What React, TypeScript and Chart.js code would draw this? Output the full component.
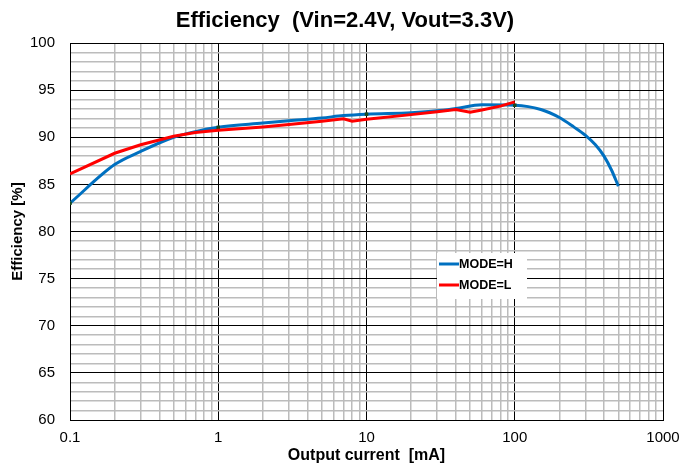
import { useEffect, useRef } from "react";
import { Chart, registerables } from "chart.js";

Chart.register(...registerables);

// ---- Data ----
const chartTitle = "Efficiency  (Vin=2.4V, Vout=3.3V)";
const xAxisTitle = "Output current  [mA]";
const yAxisTitle = "Efficiency [%]";
const seriesNames = ["MODE=H", "MODE=L"];

const currentH = [0.1, 0.2, 0.3, 0.5, 0.7, 1, 2, 3, 5, 7, 10, 20, 30, 40, 60, 100, 150, 200, 250, 300, 350, 400, 450, 500];
const effH = [83.0, 87.1, 88.5, 90.0, 90.6, 91.05, 91.5, 91.75, 92.05, 92.3, 92.45, 92.6, 92.8, 93.05, 93.45, 93.4, 92.95, 92.1, 91.1, 90.2, 89.2, 88.0, 86.5, 84.8];

const currentL = [0.1, 0.2, 0.3, 0.5, 0.7, 1, 2, 3, 5, 7, 8, 10, 20, 30, 40, 50, 60, 80, 100];
const effL = [86.1, 88.3, 89.2, 90.1, 90.5, 90.75, 91.1, 91.35, 91.7, 91.95, 91.7, 91.9, 92.4, 92.7, 92.95, 92.65, 92.9, 93.3, 93.75];

const markerCurrents = [0.1, 1, 10, 100];

const xDecades = [0.1, 1, 10, 100, 1000];
const xMantissas = [1, 2, 3, 4, 5, 6, 7, 8, 9];
const yMin = 60;
const yMax = 100;
const yLabelStep = 5;

const FONT = '"Liberation Sans", Arial, Helvetica, sans-serif';

export default function App() {
  const ref = useRef<HTMLCanvasElement | null>(null);

  useEffect(() => {
    if (!ref.current) return;

    const xGridValues: number[] = [];
    xDecades.forEach((d, i) => {
      if (i === xDecades.length - 1) {
        xGridValues.push(d);
      } else {
        xMantissas.forEach((m) => xGridValues.push(+(d * m).toPrecision(6)));
      }
    });
    const isDecade = (v: number) => xDecades.some((d) => Math.abs(d - v) < d * 1e-6);

    const titlePlugin = {
      id: "centeredTitle",
      afterDraw(chart: any) {
        const { ctx } = chart;
        ctx.save();
        ctx.fillStyle = "#000000";
        ctx.font = `bold 22px ${FONT}`;
        ctx.textAlign = "center";
        ctx.textBaseline = "alphabetic";
        ctx.fillText(chartTitle, 345, 26.5);
        ctx.restore();
      },
    };

    const legendPlugin = {
      id: "inlineLegend",
      afterDraw(chart: any) {
        const { ctx, chartArea } = chart;
        const bx = chartArea.left + 367;
        const by = chartArea.top + 210;
        ctx.save();
        ctx.fillStyle = "#ffffff";
        ctx.fillRect(bx, by, 90, 46);
        chart.data.datasets.forEach((ds: any, i: number) => {
          const y = by + 11 + i * 21;
          ctx.strokeStyle = ds.borderColor;
          ctx.lineWidth = 3;
          ctx.beginPath();
          ctx.moveTo(bx + 2, y);
          ctx.lineTo(bx + 22, y);
          ctx.stroke();
          ctx.fillStyle = "#000000";
          ctx.font = `bold 12.5px ${FONT}`;
          ctx.textBaseline = "middle";
          ctx.textAlign = "left";
          ctx.fillText(ds.label, bx + 22, y + 0.5);
        });
        ctx.restore();
      },
    };

    const chart = new Chart(ref.current, {
      type: "line",
      data: {
        datasets: [
          {
            label: seriesNames[0],
            data: currentH.map((x, i) => ({ x, y: effH[i] })),
            borderColor: "#0070C0",
            backgroundColor: "#0070C0",
            borderWidth: 3,
            cubicInterpolationMode: "monotone",
            pointStyle: "rect",
            pointRadius: currentH.map((x) => (markerCurrents.includes(x) ? 2.5 : 0)),
            pointBackgroundColor: "#1d4a1d",
            pointBorderColor: "#1d4a1d",
            pointBorderWidth: 0,
            order: 2,
          },
          {
            label: seriesNames[1],
            data: currentL.map((x, i) => ({ x, y: effL[i] })),
            borderColor: "#FF0000",
            backgroundColor: "#FF0000",
            borderWidth: 3,
            tension: 0,
            pointRadius: 0,
            order: 1,
          },
        ],
      },
      options: {
        animation: false,
        responsive: false,
        maintainAspectRatio: false,
        layout: { padding: { left: 0, right: 33, top: 43, bottom: 0 } },
        plugins: {
          legend: { display: false },
          tooltip: { enabled: false },
          title: { display: false },
        },
        scales: {
          x: {
            type: "logarithmic",
            min: 0.1,
            max: 1000,
            afterBuildTicks: (scale: any) => {
              scale.ticks = xGridValues.map((v) => ({ value: v }));
            },
            afterFit: (scale: any) => {
              scale.height = 50;
            },
            ticks: {
              autoSkip: false,
              maxRotation: 0,
              padding: 9,
              color: "#000000",
              font: { family: FONT, size: 15 },
              callback: (v: any) => (isDecade(Number(v)) ? String(+Number(v).toPrecision(6)) : ""),
            },
            grid: {
              drawTicks: false,
              color: (c: any) => (isDecade(c.tick.value) ? "#000000" : "#bcbcbc"),
              lineWidth: (c: any) => (isDecade(c.tick.value) ? 1 : 1.5),
            },
            border: { color: "#000000", width: 1 },
            title: {
              display: true,
              text: xAxisTitle,
              color: "#000000",
              font: { family: FONT, size: 16, weight: "bold" },
              padding: { top: 0, bottom: 5 },
            },
          },
          y: {
            min: yMin,
            max: yMax,
            afterFit: (scale: any) => {
              scale.width = 70;
            },
            ticks: {
              stepSize: 1,
              autoSkip: false,
              padding: 15,
              color: "#000000",
              font: { family: FONT, size: 15 },
              callback: (v: any) => (Number(v) % yLabelStep === 0 ? String(v) : ""),
            },
            grid: {
              drawTicks: false,
              color: (c: any) => (c.tick.value % yLabelStep === 0 ? "#000000" : "#bcbcbc"),
              lineWidth: (c: any) => (c.tick.value % yLabelStep === 0 ? 1 : 1.5),
            },
            border: { color: "#000000", width: 1 },
            title: {
              display: true,
              text: yAxisTitle,
              color: "#000000",
              font: { family: FONT, size: 15, weight: "bold" },
              padding: { top: 9, bottom: 0 },
            },
          },
        },
      },
      plugins: [legendPlugin, titlePlugin],
    } as any);

    return () => chart.destroy();
  }, []);

  return (
    <div style={{ position: "fixed", left: 0, top: 0, width: 696, height: 470, background: "#ffffff" }}>
      <canvas ref={ref} width={696} height={470} />
    </div>
  );
}
